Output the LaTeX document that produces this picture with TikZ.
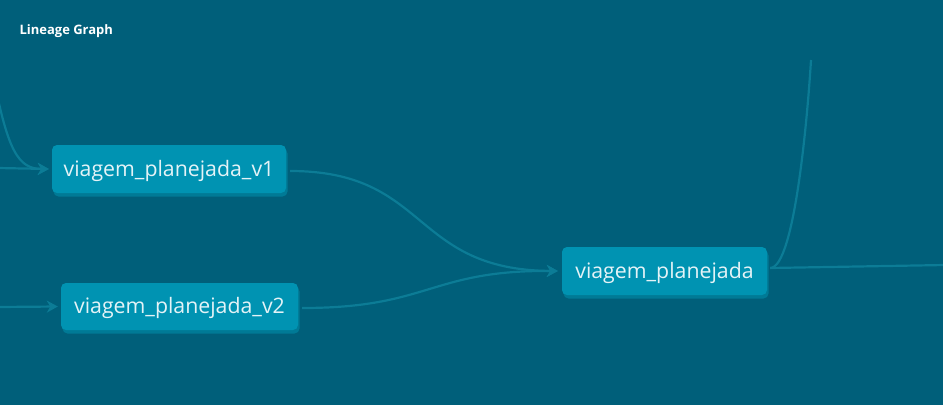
\documentclass[tikz,border=0pt]{standalone}
\usepackage{fontspec}
\setmainfont{Open Sans}
\usetikzlibrary{arrows.meta,shadows}
\definecolor{bgcol}{RGB}{0,95,122}
\definecolor{nodecol}{RGB}{0,147,178}
\definecolor{shadecol}{RGB}{0,122,150}
\definecolor{linkcol}{RGB}{12,124,150}
\definecolor{labcol}{RGB}{228,243,247}
\tikzset{
  table/.style={rounded corners=5pt, fill=nodecol, text=labcol, inner sep=0pt,
    font=\fontsize{21.3}{25}\selectfont, text height=17pt, text depth=3pt,
    drop shadow={shadow xshift=1.5pt, shadow yshift=-3.5pt, fill=shadecol, opacity=1}},
  link/.style={draw=linkcol, line width=2.2pt},
  tip/.style={-{Stealth[length=11pt,width=12pt,inset=3.5pt]}}
}
\begin{document}
\begin{tikzpicture}[x=1pt,y=-1pt]
      \useasboundingbox (0,0) rectangle (943,405);
      \fill[bgcol] (0,0) rectangle (943,405);
      \node[anchor=west, text=white, font=\bfseries\fontsize{13}{15}\selectfont] (title) at (16,31) {Lineage Graph};
      \node[table, minimum width=234pt, minimum height=48pt] (v1) at (169,169) {viagem\_planejada\_v1};
      \node[table, minimum width=237pt, minimum height=47pt] (v2) at (179.5,306.5) {viagem\_planejada\_v2};
      \node[table, minimum width=205pt, minimum height=48pt] (vp) at (664.5,271) {viagem\_planejada};
      \coordinate (in1) at (-2,168);
      \coordinate (in0) at (-6,80);
      \coordinate (in2) at (-2,307);
      \coordinate (out1) at (945,265);
      \coordinate (out0) at (811,60);
      \draw[link, tip] (in1) -- ([xshift=-3pt]v1.west);
      \draw[link, tip] (in0) .. controls (8,150) and (18,169) .. ([xshift=-3pt]v1.west);
      \draw[link, tip] (in2) -- ([xshift=-3pt]v2.west);
      \draw[link, tip] ([shift={(4,2)}]v1.east) .. controls (430,171) and (410,270) .. ([xshift=-4pt]vp.west);
      \draw[link, tip] ([shift={(4,1.5)}]v2.east) .. controls (430,308) and (430,270) .. ([xshift=-4pt]vp.west);
      \draw[link] ([shift={(3,-3)}]vp.east) -- (out1);
      \draw[link] ([shift={(3,-3)}]vp.east) .. controls (795,268) and (808,110) .. (out0);
\end{tikzpicture}
\end{document}
